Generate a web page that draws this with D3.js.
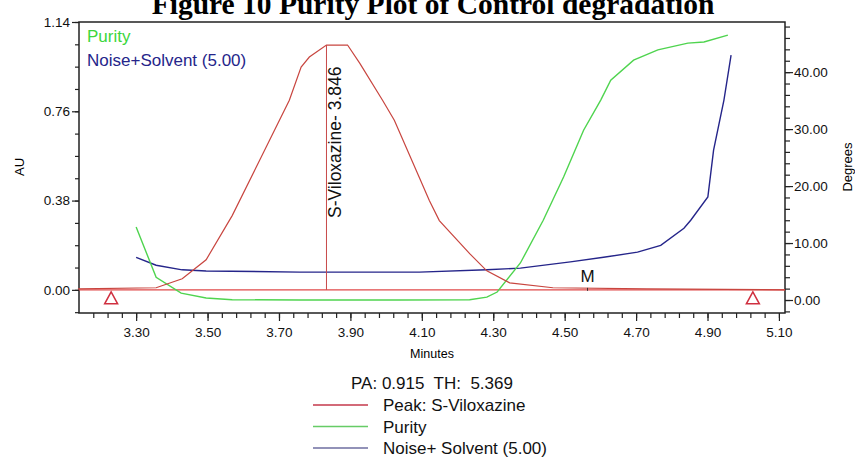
<!DOCTYPE html>
<html>
<head>
<meta charset="utf-8">
<script src="https://cdn.jsdelivr.net/npm/d3@7"></script>
<style>
  body { margin: 0; background: #fff; }
  svg { display: block; font-family: "Liberation Sans", Arial, sans-serif; }
</style>
</head>
<body>
<div class="chart"></div>
<script>
// data
var peakTime = [3.137, 3.356, 3.429, 3.496, 3.569, 3.650, 3.729, 3.762, 3.785, 3.833, 3.892, 3.926, 3.990, 4.023, 4.093, 4.121, 4.149, 4.234, 4.282, 4.346, 4.467, 4.730, 5.117];
var peakAU   = [0.004, 0.009, 0.047, 0.128, 0.316, 0.564, 0.807, 0.948, 0.991, 1.042, 1.042, 0.965, 0.807, 0.722, 0.478, 0.380, 0.295, 0.154, 0.081, 0.030, 0.009, 0.004, 0.0];
var purityTime = [3.300, 3.356, 3.426, 3.496, 3.569, 3.758, 4.039, 4.234, 4.282, 4.311, 4.376, 4.440, 4.497, 4.553, 4.601, 4.629, 4.693, 4.761, 4.845, 4.890, 4.957];
var purityDeg  = [12.8, 4.0, 1.2, 0.35, 0.05, 0.0, 0.0, 0.05, 0.5, 1.4, 6.5, 14.0, 21.6, 29.8, 35.1, 38.6, 42.1, 43.9, 45.1, 45.3, 46.5];
var noiseTime = [3.300, 3.356, 3.429, 3.496, 3.758, 4.093, 4.282, 4.376, 4.516, 4.609, 4.704, 4.769, 4.834, 4.853, 4.901, 4.917, 4.946, 4.966];
var noiseDeg  = [7.5, 6.1, 5.3, 5.1, 4.9, 4.9, 5.3, 5.6, 6.7, 7.5, 8.4, 9.6, 12.6, 14.0, 18.1, 26.3, 35.1, 43.0];
var auTicks = [0.00, 0.38, 0.76, 1.14];
var minuteTicks = [3.30, 3.50, 3.70, 3.90, 4.10, 4.30, 4.50, 4.70, 4.90, 5.10];
var degTicks = [0, 10, 20, 30, 40];
var apexTime = 3.833;
var apexLabel = "S-Viloxazine- 3.846";
var startEnd = [3.230, 5.027];
var mTime = 4.564;
var paText = "PA: 0.915  TH:  5.369";
var legendNames = ["Peak: S-Viloxazine", "Purity", "Noise+ Solvent (5.00)"];

var svgWidth = 855;
var svgHeight = 459;
var plotL = 79, plotR = 785, plotT = 22, plotB = 313;

var red = "#c8453f", green = "#4fd44f", blue = "#25258a";

var svg = d3.select(".chart").append("svg")
  .attr("width", svgWidth)
  .attr("height", svgHeight);

var x = d3.scaleLinear().domain([3.14, 5.117]).range([plotL, plotR]);
var yAU = d3.scaleLinear().domain([-0.0985, 1.14]).range([plotB, plotT]);
var yDeg = d3.scaleLinear().domain([-2.28, 48.8]).range([plotB, plotT]);

// title (cut off at the top like the source)
svg.append("text")
  .attr("x", 433).attr("y", 14)
  .attr("text-anchor", "middle")
  .style("font-family", "'Liberation Serif', 'Times New Roman', serif")
  .style("font-weight", "bold")
  .style("font-size", "29.5px")
  .text("Figure 10 Purity Plot of Control degradation");

// minor ticks
function range(a, b, s) {
  var out = [];
  for (var v = a; v <= b + 1e-9; v += s) out.push(+v.toFixed(4));
  return out;
}
svg.append("g").attr("transform", `translate(0,${plotB})`)
  .call(d3.axisBottom(x).tickValues(range(3.18, 5.10, 0.04)).tickSize(5).tickSizeOuter(0).tickFormat(""));
svg.append("g").attr("transform", `translate(${plotL},0)`)
  .call(d3.axisLeft(yAU).tickValues(range(-0.095, 1.14, 0.095)).tickSize(4).tickSizeOuter(0).tickFormat(""));
svg.append("g").attr("transform", `translate(${plotR},0)`)
  .call(d3.axisRight(yDeg).tickValues(range(-2, 48, 2)).tickSize(5).tickSizeOuter(0).tickFormat(""));

// major ticks
var xAxis = svg.append("g").attr("transform", `translate(0,${plotB})`)
  .call(d3.axisBottom(x).tickValues(minuteTicks).tickSize(8).tickSizeOuter(0).tickPadding(6).tickFormat(d3.format(".2f")));
var yAxis = svg.append("g").attr("transform", `translate(${plotL},0)`)
  .call(d3.axisLeft(yAU).tickValues(auTicks).tickSize(7).tickSizeOuter(0).tickPadding(2).tickFormat(d3.format(".2f")));
var y2Axis = svg.append("g").attr("transform", `translate(${plotR},0)`)
  .call(d3.axisRight(yDeg).tickValues(degTicks).tickSize(8).tickSizeOuter(0).tickPadding(1).tickFormat(d3.format(".2f")));

svg.selectAll(".tick text").style("font-size", "13.5px").attr("fill", "#111");
svg.selectAll(".domain").remove();
svg.selectAll(".tick line").attr("stroke", "#222").attr("stroke-width", 1.2);

// frame
svg.append("rect")
  .attr("x", plotL).attr("y", plotT)
  .attr("width", plotR - plotL).attr("height", plotB - plotT)
  .attr("fill", "none").attr("stroke", "#222").attr("stroke-width", 1.5);

// axis titles
svg.append("text").attr("transform", "translate(24,167) rotate(-90)")
  .attr("text-anchor", "middle").style("font-size", "13px").text("AU");
svg.append("text").attr("transform", "translate(852,167) rotate(-90)")
  .attr("text-anchor", "middle").style("font-size", "13px").text("Degrees");
svg.append("text").attr("x", 432).attr("y", 358)
  .attr("text-anchor", "middle").style("font-size", "12.5px").text("Minutes");

// baseline
svg.append("line")
  .attr("x1", x(3.14)).attr("x2", x(5.117))
  .attr("y1", yAU(0)).attr("y2", yAU(0))
  .attr("stroke", "#e04848").attr("stroke-width", 1.3);

var peakData = peakTime.map((t, i) => [t, peakAU[i]]);
var purityData = purityTime.map((t, i) => [t, purityDeg[i]]);
var noiseData = noiseTime.map((t, i) => [t, noiseDeg[i]]);

svg.append("path").datum(noiseData)
  .attr("d", d3.line().x(d => x(d[0])).y(d => yDeg(d[1])))
  .attr("fill", "none").attr("stroke", blue).attr("stroke-width", 1.4);
svg.append("path").datum(purityData)
  .attr("d", d3.line().x(d => x(d[0])).y(d => yDeg(d[1])))
  .attr("fill", "none").attr("stroke", green).attr("stroke-width", 1.4);
svg.append("path").datum(peakData)
  .attr("d", d3.line().x(d => x(d[0])).y(d => yAU(d[1])))
  .attr("fill", "none").attr("stroke", red).attr("stroke-width", 1.2);

// apex marker and label
svg.append("line")
  .attr("x1", x(apexTime)).attr("x2", x(apexTime))
  .attr("y1", yAU(0)).attr("y2", yAU(d3.max(peakAU)))
  .attr("stroke", "#c84a4a").attr("stroke-width", 1);
svg.append("text")
  .attr("transform", `translate(${x(apexTime) + 15},218) rotate(-90)`)
  .style("font-size", "17.5px").attr("fill", "#111")
  .text(apexLabel);

// start / end triangles
svg.selectAll(".tri").data(startEnd).enter().append("path")
  .attr("class", "tri")
  .attr("d", d => `M${x(d)},${yAU(0) + 2} l6.5,12 l-13,0 z`)
  .attr("fill", "none").attr("stroke", "#d03040").attr("stroke-width", 1.5);

// M marker
svg.append("text").attr("x", x(mTime)).attr("y", 282)
  .attr("text-anchor", "middle").style("font-size", "17px").attr("fill", "#111").text("M");
svg.append("line").attr("x1", x(mTime)).attr("x2", x(mTime))
  .attr("y1", yAU(0) - 2).attr("y2", yAU(0) + 1).attr("stroke", "#333");

// inner legend
svg.append("text").attr("x", 87).attr("y", 42)
  .style("font-size", "17px").attr("fill", "#3cd63c").text("Purity");
svg.append("text").attr("x", 87).attr("y", 66)
  .style("font-size", "17px").attr("fill", blue).text("Noise+Solvent (5.00)");

// bottom info and legend
svg.append("text").attr("x", 432).attr("y", 389)
  .attr("text-anchor", "middle").style("font-size", "17px").attr("fill", "#111")
  .style("white-space", "pre").text(paText);

var legColors = ["#c4394b", "#66cc66", "#6e6ea0"];
var leg = svg.selectAll(".leg").data(legendNames).enter().append("g")
  .attr("class", "leg")
  .attr("transform", (d, i) => `translate(0,${405 + i * 21.5})`);
leg.append("line").attr("x1", 313).attr("x2", 368)
  .attr("stroke", (d, i) => legColors[i]).attr("stroke-width", 1.5);
leg.append("text").attr("x", 383).attr("y", 6)
  .style("font-size", "17px").attr("fill", "#111").text(d => d);
</script>
</body>
</html>
